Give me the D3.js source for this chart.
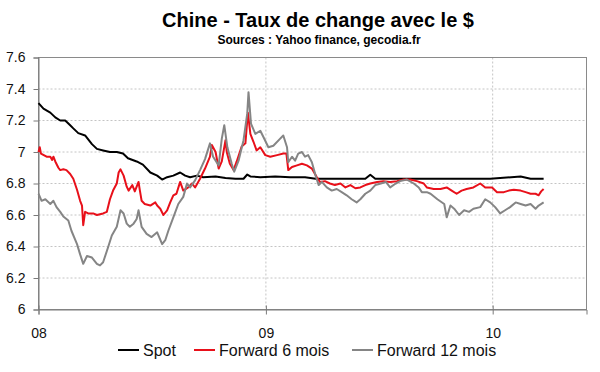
<!DOCTYPE html>
<html>
<head>
<meta charset="utf-8">
<script src="https://cdn.jsdelivr.net/npm/d3@7"></script>
<style>
  body { margin: 0; background: #fff; }
  text { font-family: "Liberation Sans", Arial, sans-serif; }
</style>
</head>
<body>
<div id="chart"></div>
<script>
// Chart data
const title = "Chine - Taux de change avec le $";
const subtitle = "Sources : Yahoo finance, gecodia.fr";
const seriesNames = ["Spot", "Forward 6 mois", "Forward 12 mois"];
const yTicks = [6, 6.2, 6.4, 6.6, 6.8, 7, 7.2, 7.4, 7.6];
const xTicks = ["2008-01-01", "2009-01-01", "2010-01-01"];
const xTickLabels = ["08", "09", "10"];

const spot = [
  ["2008-01-01",7.31],["2008-01-09",7.275],["2008-01-20",7.25],["2008-01-28",7.22],["2008-02-05",7.20],
  ["2008-02-13",7.20],["2008-02-21",7.17],["2008-02-26",7.15],["2008-03-05",7.12],["2008-03-16",7.105],
  ["2008-03-27",7.05],["2008-04-04",7.02],["2008-04-14",7.01],["2008-04-25",7.00],["2008-05-06",7.00],
  ["2008-05-16",6.99],["2008-05-24",6.96],["2008-06-07",6.94],["2008-06-17",6.92],["2008-06-29",6.87],
  ["2008-07-10",6.85],["2008-07-18",6.825],["2008-07-26",6.84],["2008-08-05",6.85],["2008-08-16",6.87],
  ["2008-08-24",6.85],["2008-09-01",6.84],["2008-09-12",6.85],["2008-09-22",6.84],["2008-10-12",6.845],
  ["2008-10-28",6.835],["2008-11-13",6.83],["2008-11-26",6.83],["2008-12-02",6.857],["2008-12-07",6.845],
  ["2008-12-23",6.84],["2009-01-16",6.845],["2009-02-09",6.84],["2009-03-05",6.84],["2009-03-22",6.83],
  ["2009-05-01",6.83],["2009-06-10",6.83],["2009-06-18",6.855],["2009-06-26",6.83],["2009-08-05",6.83],
  ["2009-09-23",6.83],["2009-11-10",6.83],["2009-12-28",6.83],["2010-02-15",6.845],["2010-03-03",6.83],
  ["2010-03-24",6.83]
];

const forward6 = [
  ["2008-01-01",7.00],["2008-01-03",7.03],["2008-01-05",6.99],["2008-01-14",6.97],["2008-01-20",6.97],
  ["2008-01-23",6.95],["2008-01-25",6.97],["2008-01-28",6.94],["2008-02-02",6.90],["2008-02-05",6.885],
  ["2008-02-10",6.89],["2008-02-15",6.885],["2008-02-21",6.86],["2008-02-26",6.83],["2008-03-03",6.76],
  ["2008-03-08",6.69],["2008-03-11",6.66],["2008-03-13",6.535],["2008-03-16",6.62],["2008-03-21",6.61],
  ["2008-03-29",6.61],["2008-04-04",6.60],["2008-04-09",6.605],["2008-04-14",6.61],["2008-04-20",6.62],
  ["2008-04-25",6.70],["2008-04-30",6.755],["2008-05-06",6.80],["2008-05-09",6.87],["2008-05-12",6.89],
  ["2008-05-17",6.85],["2008-05-22",6.78],["2008-05-25",6.755],["2008-05-31",6.79],["2008-06-04",6.75],
  ["2008-06-10",6.81],["2008-06-12",6.76],["2008-06-15",6.69],["2008-06-20",6.67],["2008-06-29",6.66],
  ["2008-07-07",6.68],["2008-07-10",6.66],["2008-07-15",6.64],["2008-07-20",6.60],["2008-07-26",6.63],
  ["2008-07-31",6.68],["2008-08-05",6.725],["2008-08-10",6.735],["2008-08-16",6.81],["2008-08-21",6.755],
  ["2008-08-29",6.775],["2008-09-04",6.80],["2008-09-09",6.775],["2008-09-17",6.83],["2008-09-25",6.895],
  ["2008-10-03",6.97],["2008-10-06",7.045],["2008-10-12",7.00],["2008-10-17",6.895],["2008-10-22",6.94],
  ["2008-10-28",7.075],["2008-10-30",7.00],["2008-11-04",6.925],["2008-11-10",6.885],["2008-11-15",6.94],
  ["2008-11-23",7.035],["2008-11-29",7.055],["2008-12-03",7.25],["2008-12-07",7.115],["2008-12-12",7.065],
  ["2008-12-17",7.01],["2008-12-23",7.03],["2008-12-31",6.98],["2009-01-08",6.97],["2009-01-19",6.98],
  ["2009-01-29",6.99],["2009-02-03",6.99],["2009-02-06",6.885],["2009-02-12",6.905],["2009-02-20",6.915],
  ["2009-02-28",6.925],["2009-03-08",6.915],["2009-03-16",6.895],["2009-03-24",6.84],["2009-03-29",6.81],
  ["2009-04-06",6.815],["2009-04-14",6.80],["2009-04-22",6.79],["2009-05-01",6.80],["2009-05-09",6.775],
  ["2009-05-17",6.79],["2009-05-25",6.77],["2009-06-02",6.775],["2009-06-10",6.79],["2009-06-18",6.80],
  ["2009-06-29",6.81],["2009-07-09",6.815],["2009-07-20",6.81],["2009-07-31",6.815],["2009-08-11",6.825],
  ["2009-08-21",6.825],["2009-09-01",6.815],["2009-09-12",6.80],["2009-09-17",6.775],["2009-09-28",6.765],
  ["2009-10-09",6.765],["2009-10-19",6.775],["2009-10-27",6.755],["2009-11-04",6.735],["2009-11-12",6.755],
  ["2009-11-20",6.765],["2009-12-01",6.775],["2009-12-12",6.80],["2009-12-20",6.775],["2009-12-31",6.775],
  ["2010-01-08",6.745],["2010-01-19",6.745],["2010-01-27",6.755],["2010-02-04",6.76],["2010-02-15",6.755],
  ["2010-02-23",6.745],["2010-03-03",6.735],["2010-03-11",6.735],["2010-03-16",6.725],["2010-03-20",6.75],
  ["2010-03-24",6.765]
];

const forward12 = [
  ["2008-01-01",6.735],["2008-01-06",6.69],["2008-01-12",6.70],["2008-01-20",6.67],["2008-01-25",6.69],
  ["2008-01-30",6.65],["2008-02-05",6.62],["2008-02-10",6.59],["2008-02-18",6.565],["2008-02-23",6.50],
  ["2008-03-03",6.415],["2008-03-08",6.35],["2008-03-13",6.29],["2008-03-19",6.34],["2008-03-27",6.33],
  ["2008-04-04",6.29],["2008-04-09",6.28],["2008-04-14",6.30],["2008-04-22",6.395],["2008-04-28",6.47],
  ["2008-05-06",6.525],["2008-05-12",6.63],["2008-05-17",6.61],["2008-05-22",6.545],["2008-05-27",6.525],
  ["2008-06-02",6.545],["2008-06-07",6.575],["2008-06-10",6.63],["2008-06-15",6.525],["2008-06-23",6.48],
  ["2008-07-01",6.46],["2008-07-10",6.49],["2008-07-18",6.415],["2008-07-23",6.44],["2008-07-28",6.50],
  ["2008-08-05",6.585],["2008-08-13",6.67],["2008-08-21",6.715],["2008-08-27",6.80],["2008-09-01",6.775],
  ["2008-09-09",6.82],["2008-09-17",6.885],["2008-09-25",6.955],["2008-10-03",7.055],["2008-10-08",6.97],
  ["2008-10-17",6.915],["2008-10-22",7.085],["2008-10-26",7.17],["2008-10-31",7.03],["2008-11-07",6.925],
  ["2008-11-11",6.875],["2008-11-18",6.945],["2008-11-26",7.075],["2008-12-02",7.245],["2008-12-04",7.38],
  ["2008-12-08",7.18],["2008-12-15",7.115],["2008-12-23",7.135],["2008-12-28",7.095],["2009-01-05",7.03],
  ["2009-01-13",7.04],["2009-01-24",7.085],["2009-01-29",7.105],["2009-02-04",7.03],["2009-02-06",6.935],
  ["2009-02-12",6.97],["2009-02-17",6.945],["2009-02-22",6.99],["2009-02-28",7.00],["2009-03-05",6.97],
  ["2009-03-10",6.98],["2009-03-16",6.935],["2009-03-22",6.85],["2009-03-27",6.79],["2009-04-01",6.81],
  ["2009-04-09",6.775],["2009-04-17",6.755],["2009-04-25",6.765],["2009-05-03",6.745],["2009-05-11",6.725],
  ["2009-05-19",6.70],["2009-05-27",6.68],["2009-06-02",6.70],["2009-06-10",6.735],["2009-06-18",6.755],
  ["2009-06-26",6.79],["2009-07-05",6.80],["2009-07-13",6.81],["2009-07-20",6.775],["2009-07-29",6.80],
  ["2009-08-05",6.815],["2009-08-16",6.825],["2009-08-27",6.80],["2009-09-04",6.775],["2009-09-09",6.745],
  ["2009-09-17",6.745],["2009-09-23",6.735],["2009-10-04",6.70],["2009-10-15",6.67],["2009-10-19",6.585],
  ["2009-10-25",6.66],["2009-10-31",6.64],["2009-11-08",6.60],["2009-11-16",6.63],["2009-11-24",6.62],
  ["2009-12-01",6.64],["2009-12-12",6.65],["2009-12-20",6.70],["2009-12-28",6.68],["2010-01-05",6.65],
  ["2010-01-13",6.61],["2010-01-21",6.63],["2010-01-29",6.65],["2010-02-07",6.68],["2010-02-15",6.67],
  ["2010-02-23",6.66],["2010-03-03",6.67],["2010-03-11",6.64],["2010-03-16",6.66],["2010-03-24",6.68]
];

const width = 600;
const height = 372;
const colors = ["#000000", "#e8101a", "#858585"];
const parse = d3.timeParse("%Y-%m-%d");

const svg = d3.select("#chart")
    .append("svg")
    .attr("width", width)
    .attr("height", height);

const x = d3.scaleTime()
    .domain([parse("2008-01-01"), parse("2010-06-01")])
    .range([38.5, 586.5]);

const y = d3.scaleLinear()
    .domain([6, 7.6])
    .range([309.5, 57.5]);

// Title
svg.append("text")
    .attr("x", 318)
    .attr("y", 27)
    .attr("text-anchor", "middle")
    .style("font-size", "20px")
    .style("font-weight", "bold")
    .text(title);

svg.append("text")
    .attr("x", 319)
    .attr("y", 44)
    .attr("text-anchor", "middle")
    .style("font-size", "12px")
    .style("font-weight", "bold")
    .text(subtitle);

// Gridlines (dotted)
svg.selectAll(".hgrid")
    .data(yTicks.filter(d => d > 6 && d < 7.6))
    .enter().append("line")
    .attr("x1", x.range()[0])
    .attr("x2", x.range()[1])
    .attr("y1", d => y(d))
    .attr("y2", d => y(d))
    .style("stroke", "#c4c4c4")
    .style("stroke-dasharray", "2,2");

svg.selectAll(".vgrid")
    .data(xTicks.slice(1))
    .enter().append("line")
    .attr("x1", d => x(parse(d)))
    .attr("x2", d => x(parse(d)))
    .attr("y1", y.range()[1])
    .attr("y2", y.range()[0])
    .style("stroke", "#c4c4c4")
    .style("stroke-dasharray", "2,2");

// Plot border
svg.append("rect")
    .attr("x", x.range()[0])
    .attr("y", y.range()[1])
    .attr("width", x.range()[1] - x.range()[0])
    .attr("height", y.range()[0] - y.range()[1])
    .style("fill", "none")
    .style("stroke", "#8a8a8a");

// Axes
const yAxis = svg.append("g")
    .attr("transform", `translate(${x.range()[0]},0)`)
    .call(d3.axisLeft(y)
        .tickValues(yTicks)
        .tickSize(5)
        .tickPadding(8)
        .tickFormat(d => String(+d.toFixed(1))));

const xAxis = svg.append("g")
    .attr("transform", `translate(0,${y.range()[0]})`)
    .call(d3.axisBottom(x)
        .tickValues(xTicks.map(parse))
        .tickSize(5)
        .tickPadding(14)
        .tickFormat((d, i) => xTickLabels[i]));

xAxis.selectAll(".tick line").attr("y1", -4);

[yAxis, xAxis].forEach(g => {
    g.select(".domain").style("stroke", "#7a7a7a");
    g.selectAll(".tick line").style("stroke", "#7a7a7a");
    g.selectAll("text")
        .style("font-family", "'Liberation Sans', Arial, sans-serif")
        .style("font-size", "14px")
        .style("fill", "#111");
});

// Lines
const line = d3.line()
    .x(d => x(parse(d[0])))
    .y(d => y(d[1]));

[spot, forward6, forward12].forEach((s, i) => {
    svg.append("path")
        .datum(s)
        .attr("fill", "none")
        .attr("stroke", colors[i])
        .attr("stroke-width", 2)
        .attr("stroke-linejoin", "round")
        .attr("d", line);
});

// Legend
const legendX = [118, 194, 352];
const legend = svg.selectAll(".legend")
    .data(seriesNames)
    .enter().append("g")
    .attr("transform", (d, i) => `translate(${legendX[i]},350)`);

legend.append("line")
    .attr("x1", 0)
    .attr("x2", 21)
    .attr("stroke", (d, i) => colors[i])
    .attr("stroke-width", 2);

legend.append("text")
    .attr("x", 25)
    .attr("y", 5.5)
    .style("font-size", "16px")
    .style("fill", "#111")
    .text(d => d);
</script>
</body>
</html>
